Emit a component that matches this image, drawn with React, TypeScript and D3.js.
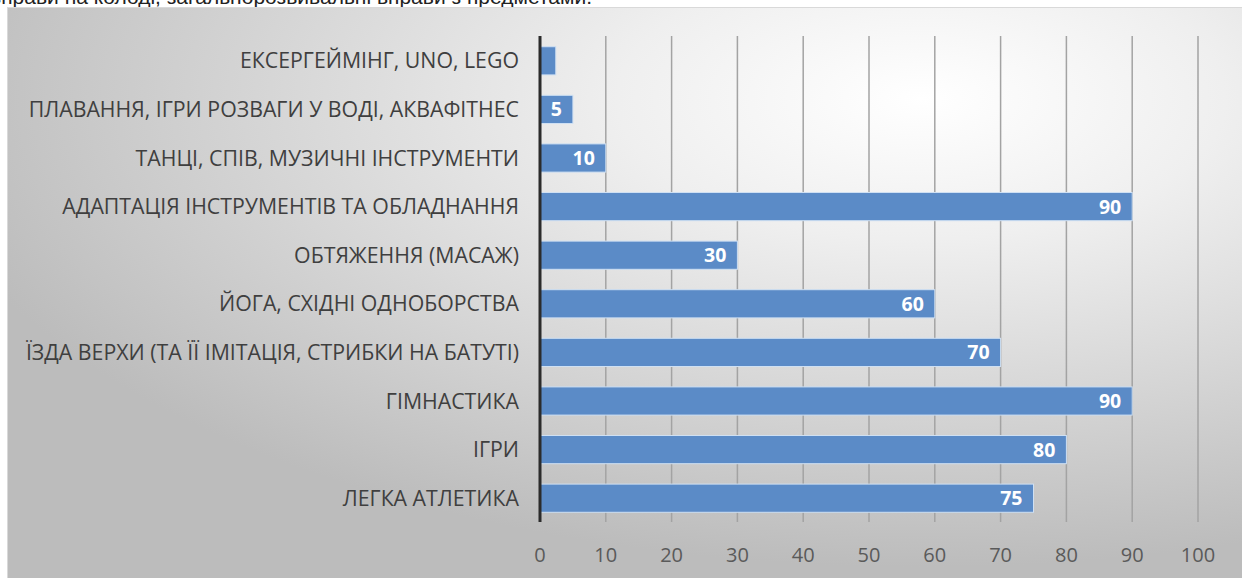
import React from "react";
import * as d3 from "d3";

const WIDTH = 1242;
const HEIGHT = 578;

// categories top to bottom, as in the picture
const categories = [
  "ЕКСЕРГЕЙМІНГ, UNO, LEGO",
  "ПЛАВАННЯ, ІГРИ РОЗВАГИ У ВОДІ, АКВАФІТНЕС",
  "ТАНЦІ, СПІВ, МУЗИЧНІ ІНСТРУМЕНТИ",
  "АДАПТАЦІЯ ІНСТРУМЕНТІВ ТА ОБЛАДНАННЯ",
  "ОБТЯЖЕННЯ (МАСАЖ)",
  "ЙОГА, СХІДНІ ОДНОБОРСТВА",
  "ЇЗДА ВЕРХИ (ТА ЇЇ ІМІТАЦІЯ, СТРИБКИ НА БАТУТІ)",
  "ГІМНАСТИКА",
  "ІГРИ",
  "ЛЕГКА АТЛЕТИКА",
];
const values = [2.4, 5, 10, 90, 30, 60, 70, 90, 80, 75];
// the first bar has no value label in the source
const showLabel = [false, true, true, true, true, true, true, true, true, true];
const ticks = [0, 10, 20, 30, 40, 50, 60, 70, 80, 90, 100];

const captionText = "вправи на колоді, загальнорозвивальні вправи з предметами.";

const FONT = "'Open Sans', 'Noto Sans', sans-serif";

export default function App() {
  const margin = { left: 540, right: 44, top: 37, bottom: 56 };
  const x = d3.scaleLinear().domain([0, 100]).range([margin.left, WIDTH - margin.right]);
  const y = d3
    .scaleBand<string>()
    .domain(categories)
    .range([margin.top, HEIGHT - margin.bottom])
    .paddingInner(0.42)
    .paddingOuter(0.2);

  const gridTop = 36;
  const gridBottom = 522;

  return (
    <svg
      width={WIDTH}
      height={HEIGHT}
      style={{ position: "absolute", left: 0, top: 0, background: "#fff" }}
    >
      <defs>
        <radialGradient id="bg" cx="0.74" cy="0.16" r="0.82" fx="0.74" fy="0.16">
          <stop offset="0" stopColor="#ffffff" />
          <stop offset="0.3" stopColor="#efefef" />
          <stop offset="1" stopColor="#bcbcbc" />
        </radialGradient>
      </defs>

      {/* caption of the surrounding document, cut off at the top as in the source */}
      <text
        x={592}
        y={4}
        textAnchor="end"
        fontFamily="'Liberation Sans', Arial, sans-serif"
        fontSize={21}
        fill="#222"
      >
        {captionText}
      </text>

      <rect x={7.5} y={7.5} width={WIDTH - 7} height={HEIGHT - 7} fill="url(#bg)" stroke="#d9d9d9" />

      {/* gridlines */}
      {ticks.slice(1).map((t) => (
        <line
          key={"g" + t}
          x1={x(t)}
          x2={x(t)}
          y1={gridTop}
          y2={gridBottom}
          stroke="#a3a3a3"
          strokeWidth={1.5}
        />
      ))}

      {/* bars */}
      {categories.map((c, i) => (
        <rect
          key={"b" + i}
          x={x(0)}
          y={y(c)}
          width={x(values[i]) - x(0)}
          height={y.bandwidth()}
          fill="#5b8bc7"
          stroke="#cfe0f3"
          strokeWidth={1}
        />
      ))}

      {/* value labels */}
      {categories.map((c, i) =>
        showLabel[i] ? (
          <text
            key={"v" + i}
            x={x(values[i]) - 11}
            y={(y(c) as number) + y.bandwidth() / 2}
            dy="0.36em"
            textAnchor="end"
            fontFamily={FONT}
            fontSize={19.5}
            fontWeight="bold"
            fill="#ffffff"
          >
            {values[i]}
          </text>
        ) : null
      )}

      {/* axis line */}
      <line x1={x(0)} x2={x(0)} y1={gridTop} y2={gridBottom} stroke="#2b2b2b" strokeWidth={3} />

      {/* category labels */}
      {categories.map((c) => (
        <text
          key={"c" + c}
          x={519}
          y={(y(c) as number) + y.bandwidth() / 2}
          dy="0.36em"
          textAnchor="end"
          fontFamily={FONT}
          fontSize={21.3}
          fill="#3f3f3f"
        >
          {c}
        </text>
      ))}

      {/* tick labels */}
      {ticks.map((t) => (
        <text
          key={"t" + t}
          x={x(t)}
          y={555}
          dy="0.36em"
          textAnchor="middle"
          fontFamily={FONT}
          fontSize={20}
          fill="#5a5a5a"
        >
          {t}
        </text>
      ))}
    </svg>
  );
}
